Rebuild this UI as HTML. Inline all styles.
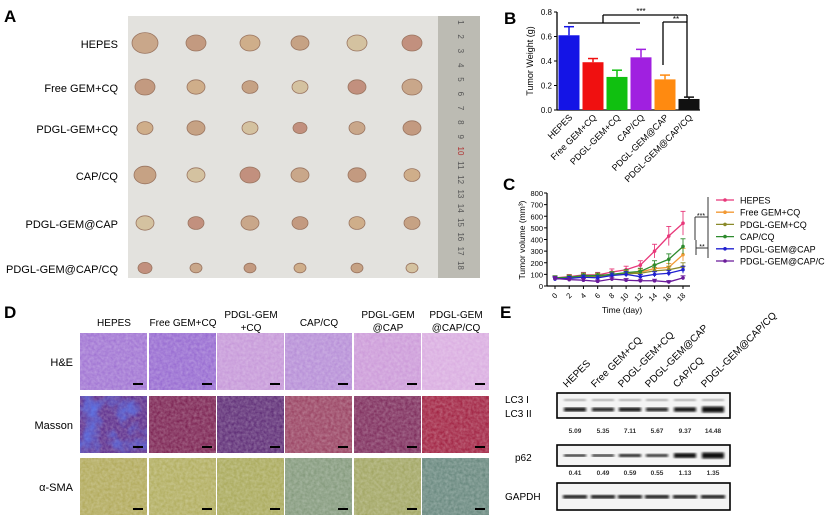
<!DOCTYPE html>
<html><head><meta charset="utf-8"><style>
html,body{margin:0;padding:0;background:#fff;}
svg{display:block;font-family:"Liberation Sans",Arial,sans-serif;}
</style></head><body>
<svg id="fig" width="825" height="518" viewBox="0 0 825 518" xmlns="http://www.w3.org/2000/svg">
<defs>
<filter id="tex" x="0" y="0" width="100%" height="100%">
<feTurbulence type="fractalNoise" baseFrequency="0.35" numOctaves="2" seed="3"/>
<feColorMatrix type="matrix" values="0 0 0 0 1  0 0 0 0 1  0 0 0 0 1  0 0 0 -1.2 1.1"/>
</filter>
<filter id="tex2" x="0" y="0" width="100%" height="100%">
<feTurbulence type="fractalNoise" baseFrequency="0.06" numOctaves="3" seed="7"/>
<feColorMatrix type="matrix" values="0 0 0 0 0.1  0 0 0 0 0.2  0 0 0 0 0.9  0 0 0 -2 1.2"/>
</filter>
<filter id="blur1"><feGaussianBlur stdDeviation="1.2"/></filter>
</defs>
<text x="4" y="22" font-size="17" font-weight="bold">A</text>
<text x="504" y="24" font-size="17" font-weight="bold">B</text>
<text x="503" y="190" font-size="17" font-weight="bold">C</text>
<text x="4" y="318" font-size="17" font-weight="bold">D</text>
<text x="500" y="318" font-size="17" font-weight="bold">E</text>
<g id="pa">
<rect x="128" y="16" width="310" height="262" fill="#e3e2de"/>
<rect x="438" y="16" width="42" height="262" fill="#bcbbb3"/>
</g>
<g id="pb"></g>
<g id="pc"></g>
<g id="pd"></g>
<g id="pe"></g>
</svg>
<script>
const NS="http://www.w3.org/2000/svg";
function mk(p,tag,a,txt){const e=document.createElementNS(NS,tag);for(const k in a)e.setAttribute(k,a[k]);if(txt!==undefined)e.textContent=txt;p.appendChild(e);return e;}

// ---------- data ----------
const groups=["HEPES","Free GEM+CQ","PDGL-GEM+CQ","CAP/CQ","PDGL-GEM@CAP","PDGL-GEM@CAP/CQ"];
const weightVals=[0.61,0.39,0.27,0.43,0.25,0.09];
const weightErr=[0.07,0.03,0.055,0.065,0.035,0.015];
const weightTicks=[0,0.2,0.4,0.6,0.8];
const barColors=["#1414e6","#f01010","#10c010","#a020e0","#ff8a10","#111111"];
const days=[0,2,4,6,8,10,12,14,16,18];
const volHEPES=[70,80,95,95,120,140,180,300,430,540];
const volFree=[65,75,85,85,100,110,120,150,160,270];
const volPDGLCQ=[65,70,80,80,95,105,110,130,140,165];
const volCAPCQ=[70,75,90,90,100,115,125,180,230,340];
const volAtCAP=[60,65,75,70,90,100,80,100,110,140];
const volAtCAPCQ=[65,55,50,40,60,50,45,45,35,70];
const volTicks=[0,100,200,300,400,500,600,700,800];
const lineColors=["#e8387a","#f29a36","#8a8a2a","#2e8b2e","#2020d0","#6a1b9a"];
const blotLanes=["HEPES","Free GEM+CQ","PDGL-GEM+CQ","PDGL-GEM@CAP","CAP/CQ","PDGL-GEM@CAP/CQ"];
const lc3Vals=["5.09","5.35","7.11","5.67","9.37","14.48"];
const p62Vals=["0.41","0.49","0.59","0.55","1.13","1.35"];

// ---------- panel A ----------
const pa=document.getElementById('pa');
const rowY=[43,87,128,175,223,268];
const colX=[145,196,250,300,357,412];
const sizes=[[13,10,10,9,10,10],[10,9,8,8,9,10],[8,9,8,7,8,9],[11,9,10,9,9,8],[9,8,9,8,8,8],[7,6,6,6,6,6]];
const tcols=["#c9a78a","#c39a80","#cfae8a","#c6a284","#d4c2a0","#c2907e"];
groups.forEach((g,r)=>{
  const t=mk(pa,'text',{x:118,y:rowY[r]+5,'font-size':11,'text-anchor':'end'},g);
  
  
  colX.forEach((x,c)=>{
    const e=mk(pa,'ellipse',{cx:x,cy:rowY[r],rx:sizes[r][c],ry:sizes[r][c]*0.8,fill:tcols[(r+c)%6],stroke:"#9a7560","stroke-width":0.8});
    
    
  });
});
for(let i=1;i<=18;i++){
  const y=16+i*14.3-8;
  const t=mk(pa,'text',{x:458,y:y,'font-size':8,'text-anchor':'middle',fill:i===10?"#b03030":"#555",transform:`rotate(90 458 ${y})`},String(i));
  
  
}

// ---------- panel B ----------
const pb=document.getElementById('pb');
const bx0=557,bx1=700,by0=110,by1=12;
const yB=v=>by0-(v/0.8)*(by0-by1);
const xB=i=>569+i*24;
mk(pb,'line',{x1:bx0,y1:by1,x2:bx0,y2:by0,stroke:"#000","stroke-width":1.3});
mk(pb,'line',{x1:bx0,y1:by0,x2:bx1,y2:by0,stroke:"#000","stroke-width":1.3});
weightTicks.forEach(t=>{
  mk(pb,'line',{x1:bx0-3,y1:yB(t),x2:bx0,y2:yB(t),stroke:"#000"});
  const l=mk(pb,'text',{x:bx0-5,y:yB(t)+3,'font-size':8,'text-anchor':'end'},t.toFixed(1));
  
  
});
const yt=mk(pb,'text',{x:533,y:61,'font-size':9,'text-anchor':'middle',transform:'rotate(-90 533 61)'},"Tumor Weight (g)");


weightVals.forEach((v,i)=>{
  const x=xB(i);
  const e=yB(v+weightErr[i]);
  mk(pb,'line',{x1:x,y1:yB(v),x2:x,y2:e,stroke:barColors[i],"stroke-width":1.5});
  mk(pb,'line',{x1:x-5,y1:e,x2:x+5,y2:e,stroke:barColors[i],"stroke-width":1.5});
  const b=mk(pb,'rect',{x:x-10.5,y:yB(v),width:21,height:by0-yB(v),fill:barColors[i]});
  
  
  const l=mk(pb,'text',{x:x+4,y:by0+8,'font-size':9,'text-anchor':'end',transform:`rotate(-45 ${x+4} ${by0+8})`},groups[i]);
  
  
});
const sig=[[568,23,640,23],[603,23,603,15],[603,15,687,15],[687,15,687,97],[663,22,687,22],[663,22,663,65]];
sig.forEach(s=>mk(pb,'line',{x1:s[0],y1:s[1],x2:s[2],y2:s[3],stroke:"#000","stroke-width":1.3}));
mk(pb,'text',{x:641,y:14,'font-size':8,'text-anchor':'middle'},"***");
mk(pb,'text',{x:676,y:22,'font-size':8,'text-anchor':'middle'},"**");

// ---------- panel C ----------
const pc=document.getElementById('pc');
const cx0=547,cy0=286,cy1=193;
const xC=d=>555+(d/18)*128;
const yC=v=>cy0-(v/800)*(cy0-cy1);
mk(pc,'line',{x1:cx0,y1:cy1,x2:cx0,y2:cy0,stroke:"#000","stroke-width":1.2});
mk(pc,'line',{x1:cx0,y1:cy0,x2:690,y2:cy0,stroke:"#000","stroke-width":1.2});
volTicks.forEach(t=>{
  mk(pc,'line',{x1:cx0-3,y1:yC(t),x2:cx0,y2:yC(t),stroke:"#000"});
  const l=mk(pc,'text',{x:cx0-4,y:yC(t)+3,'font-size':7.5,'text-anchor':'end'},String(t));
  
  
});
days.forEach(d=>{
  mk(pc,'line',{x1:xC(d),y1:cy0,x2:xC(d),y2:cy0+3,stroke:"#000"});
  const l=mk(pc,'text',{x:xC(d)+3,y:cy0+10,'font-size':7.5,'text-anchor':'end',transform:`rotate(-45 ${xC(d)+3} ${cy0+10})`},String(d));
  
  
});
const xt=mk(pc,'text',{x:622,y:313,'font-size':8.5,'text-anchor':'middle'},"Time (day)");


const yt2=mk(pc,'text',{x:525,y:240,'font-size':8.5,'text-anchor':'middle',transform:'rotate(-90 525 240)'},"Tumor volume (mm³)");


const series=[volHEPES,volFree,volPDGLCQ,volCAPCQ,volAtCAP,volAtCAPCQ];
series.forEach((s,k)=>{
  const c=lineColors[k];
  s.forEach((v,i)=>{
    const er=v*0.18+5;
    mk(pc,'line',{x1:xC(days[i]),y1:yC(v-er),x2:xC(days[i]),y2:yC(v+er),stroke:c,"stroke-width":0.9});
    mk(pc,'line',{x1:xC(days[i])-2.5,y1:yC(v+er),x2:xC(days[i])+2.5,y2:yC(v+er),stroke:c,"stroke-width":0.9});
  });
  const pl=mk(pc,'polyline',{points:s.map((v,i)=>xC(days[i])+','+yC(v)).join(' '),fill:'none',stroke:c,"stroke-width":1.3});
  
  
  s.forEach((v,i)=>{
    const m=mk(pc,'circle',{cx:xC(days[i]),cy:yC(v),r:1.8,fill:c});
    
    
  });
  const ly=200+k*12.2;
  const g=mk(pc,'g',{});
  
  
  mk(g,'line',{x1:716,y1:ly,x2:734,y2:ly,stroke:c,"stroke-width":1.3});
  mk(g,'circle',{cx:725,cy:ly,r:1.8,fill:c});
  mk(g,'text',{x:740,y:ly+3.5,'font-size':9},groups[k]);
});
[[708,197,708,258],[695,217,708,217],[695,217,695,240],[696,248,708,248],[696,240,696,255]].forEach(s=>mk(pc,'line',{x1:s[0],y1:s[1],x2:s[2],y2:s[3],stroke:"#333","stroke-width":1}));
mk(pc,'text',{x:701,y:218,'font-size':7,'text-anchor':'middle'},"***");
mk(pc,'text',{x:702,y:249,'font-size':7,'text-anchor':'middle'},"**");

// ---------- panel D ----------
const pd=document.getElementById('pd');
const dCols=[80,149,217,285,354,422];
const dRows=[333,396,458];
const dRowNames=["H&E","Masson","α-SMA"];
const heads=[["HEPES"],["Free GEM+CQ"],["PDGL-GEM","+CQ"],["CAP/CQ"],["PDGL-GEM","@CAP"],["PDGL-GEM","@CAP/CQ"]];
const dColors=[["#9f72d2","#9568d0","#c596d8","#b58cd6","#cb98d8","#d9abe0"],
               ["#5a2a8a","#7a2050","#5c2a74","#984060","#7c2a5a","#a02040"],
               ["#b0a858","#b0ac5c","#a8a858","#82987a","#a0a460","#66867c"]];
heads.forEach((h,c)=>{
  const cx=dCols[c]+34;
  h.forEach((line,j)=>{
    const t=mk(pd,'text',{x:cx,y:h.length===1?326:318+j*13,'font-size':10,'text-anchor':'middle'},line);
    
    
  });
});
dRowNames.forEach((n,r)=>{
  const t=mk(pd,'text',{x:73,y:dRows[r]+33,'font-size':11,'text-anchor':'end'},n);
  
  
  dCols.forEach((x,c)=>{
    const im=mk(pd,'rect',{x:x,y:dRows[r],width:67,height:57,fill:dColors[r][c]});
    
    
    mk(pd,'rect',{x:x,y:dRows[r],width:67,height:57,fill:'#fff',filter:'url(#tex)',opacity:0.3});
    if(r===1&&c===0) mk(pd,'rect',{x:x,y:dRows[r],width:67,height:57,filter:'url(#tex2)',opacity:0.9});
    mk(pd,'rect',{x:x+53,y:dRows[r]+50,width:10,height:2,fill:'#000'});
  });
});

// ---------- panel E ----------
const pe=document.getElementById('pe');
const laneX=[575,603,630,657,685,713];
blotLanes.forEach((n,i)=>{
  const t=mk(pe,'text',{x:laneX[i]-8,y:388,'font-size':10,transform:`rotate(-45 ${laneX[i]-8} 388)`},n);
  
  
});
const boxes=[[393,25],[445,21],[483,27]];
boxes.forEach((b,k)=>{
  const r=mk(pe,'rect',{x:557,y:b[0],width:173,height:b[1],fill:'#f4f4f4',stroke:'#000','stroke-width':1.6});
  
  
});
const lc3w=[3,2.5,3,2.5,3.5,5];
const p62w=[1.5,1.3,2,1.7,4,5];
laneX.forEach((x,i)=>{
  mk(pe,'rect',{x:x-11,y:399,width:22,height:2,fill:'#999',filter:'url(#blur1)'});
  mk(pe,'rect',{x:x-11,y:409-lc3w[i]/2,width:22,height:lc3w[i]+1,fill:'#111',filter:'url(#blur1)'});
  mk(pe,'rect',{x:x-11,y:455-p62w[i]/2,width:22,height:p62w[i]+1,fill:'#111',filter:'url(#blur1)'});
  mk(pe,'rect',{x:x-12,y:495,width:24,height:3.5,fill:'#111',filter:'url(#blur1)'});
  const a=mk(pe,'text',{x:x,y:433,'font-size':6.5,'font-weight':'bold','text-anchor':'middle',fill:'#333'},lc3Vals[i]);
  
  
  const b=mk(pe,'text',{x:x,y:475,'font-size':6.5,'font-weight':'bold','text-anchor':'middle',fill:'#333'},p62Vals[i]);
  
  
});
[["LC3 I",505,403],["LC3 II",505,417],["p62",515,461],["GAPDH",505,500]].forEach(l=>{
  const t=mk(pe,'text',{x:l[1],y:l[2],'font-size':10},l[0]);
  
  
});
</script>
</body></html>
